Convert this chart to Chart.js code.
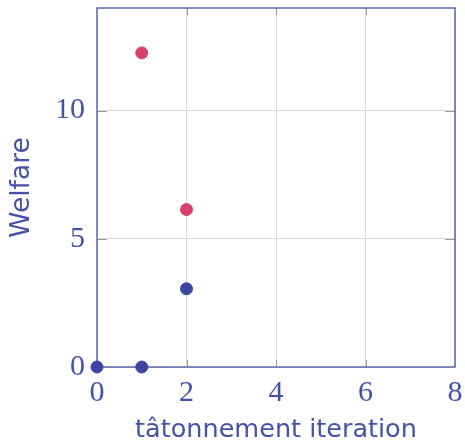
<!DOCTYPE html>
<html><head><meta charset="utf-8">
<script src="https://cdn.jsdelivr.net/npm/chart.js@4"></script>
<style>html,body{margin:0;padding:0;background:#fff}#wrap{width:465px;height:446px}</style>
</head><body><div id="wrap"><canvas id="c" width="465" height="446"></canvas></div>
<script>
const xTicks = [0, 2, 4, 6, 8];
const yTicks = [0, 5, 10];
const blueX = [0, 1, 2];
const blueY = [0, 0, 3.05];
const redX = [1, 2];
const redY = [12.25, 6.14];

const AXIS = '#4652a8';
const BLUE = '#3b46a3';
const RED = '#d6406a';

const boxPlugin = {
  id: 'box',
  beforeDatasetsDraw(chart) {
    const {ctx, chartArea: a, scales} = chart;
    ctx.save();
    ctx.strokeStyle = '#9a9a9a';
    ctx.lineWidth = 1;
    xTicks.slice(1, -1).forEach(v => {
      const x = Math.round(scales.x.getPixelForValue(v)) + 0.5;
      ctx.beginPath(); ctx.moveTo(x, a.bottom); ctx.lineTo(x, a.bottom - 7); ctx.stroke();
      ctx.beginPath(); ctx.moveTo(x, a.top); ctx.lineTo(x, a.top + 7); ctx.stroke();
    });
    yTicks.slice(1).forEach(v => {
      const y = Math.round(scales.y.getPixelForValue(v)) + 0.5;
      ctx.beginPath(); ctx.moveTo(a.left, y); ctx.lineTo(a.left + 10, y); ctx.stroke();
      ctx.beginPath(); ctx.moveTo(a.right, y); ctx.lineTo(a.right - 10, y); ctx.stroke();
    });
    ctx.strokeStyle = AXIS;
    ctx.lineWidth = 1.3;
    ctx.strokeRect(a.left, a.top, a.right - a.left, a.bottom - a.top);
    ctx.restore();
  }
};

new Chart(document.getElementById('c'), {
  type: 'scatter',
  data: {
    datasets: [
      {data: redX.map((x, i) => ({x, y: redY[i]})), backgroundColor: RED, borderColor: RED, pointRadius: 6, pointHoverRadius: 6, clip: false},
      {data: blueX.map((x, i) => ({x, y: blueY[i]})), backgroundColor: BLUE, borderColor: BLUE, pointRadius: 6, pointHoverRadius: 6, clip: false}
    ]
  },
  options: {
    responsive: false,
    animation: false,
    layout: {padding: {top: 8, right: 10, left: 0, bottom: 0}},
    plugins: {legend: {display: false}, tooltip: {enabled: false}},
    scales: {
      x: {
        type: 'linear', min: 0, max: 8,
        afterBuildTicks: s => { s.ticks = xTicks.map(v => ({value: v})); },
        afterFit: s => { s.height = 79; s.paddingLeft = 0; s.paddingRight = 0; },
        border: {display: false},
        grid: {color: '#dadada', drawTicks: false, lineWidth: 1},
        ticks: {color: AXIS, padding: 8, font: {family: 'Liberation Serif', size: 30}},
        title: {display: true, text: 'tâtonnement iteration', color: AXIS, padding: {top: 0, bottom: 0}, font: {family: 'DejaVu Sans', size: 25.5}}
      },
      y: {
        type: 'linear', min: 0, max: 14,
        afterBuildTicks: s => { s.ticks = yTicks.map(v => ({value: v})); },
        afterFit: s => { s.width = 97; s.paddingTop = 0; s.paddingBottom = 0; },
        border: {display: false},
        grid: {color: '#dadada', drawTicks: false, lineWidth: 1},
        ticks: {color: AXIS, padding: 12, font: {family: 'Liberation Serif', size: 30}},
        title: {display: true, text: 'Welfare', color: AXIS, padding: {top: 6, bottom: 0}, font: {family: 'DejaVu Sans', size: 26.5}}
      }
    }
  },
  plugins: [boxPlugin]
});
</script></body></html>
